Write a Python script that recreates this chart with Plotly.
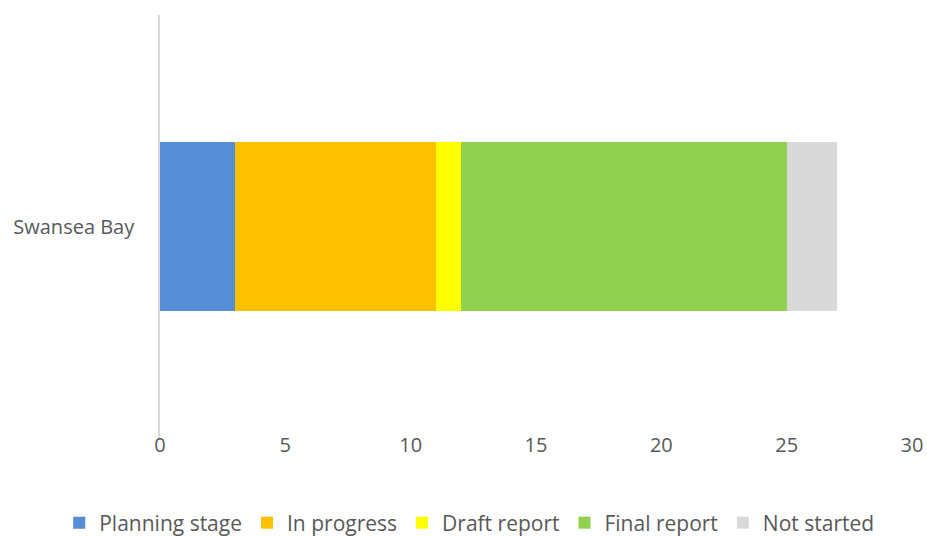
import plotly.graph_objects as go

categories = ["Swansea Bay"]
series_names = ["Planning stage", "In progress", "Draft report", "Final report", "Not started"]
planning = [3]
in_progress = [8]
draft = [1]
final = [13]
not_started = [2]
colors = ["#558ED5", "#FFC000", "#FFFF00", "#92D050", "#D9D9D9"]

fig = go.Figure()
for name, vals, col in zip(series_names, [planning, in_progress, draft, final, not_started], colors):
    fig.add_trace(go.Bar(y=categories, x=vals, name=name, orientation="h",
                         marker=dict(color=col, line=dict(width=0))))

fig.update_layout(
    barmode="stack",
    bargap=0.6,
    width=927, height=536,
    margin=dict(l=160, r=15, t=15, b=98, autoexpand=False),
    paper_bgcolor="white", plot_bgcolor="white",
    font=dict(family="Open Sans", size=20, color="#595959"),
    xaxis=dict(range=[0, 30], dtick=5, showgrid=False, zeroline=False,
               showline=False, ticks="", ticklabelstandoff=-7,
               tickfont=dict(size=20, color="#595959")),
    yaxis=dict(showgrid=False, zeroline=False, showline=True, linecolor="#D9D9D9",
               linewidth=1.5, ticks="", ticklabelstandoff=20,
               tickfont=dict(size=20, color="#595959")),
    legend=dict(orientation="h", x=-0.134, xanchor="left",
                y=-0.201, yanchor="middle",
                font=dict(size=21, color="#595959"), traceorder="normal",
                itemwidth=30),
    showlegend=True,
)
fig.write_html("out.html", config={"displayModeBar": False},
               post_script="document.body.style.margin='0';document.body.style.overflow='hidden';")
